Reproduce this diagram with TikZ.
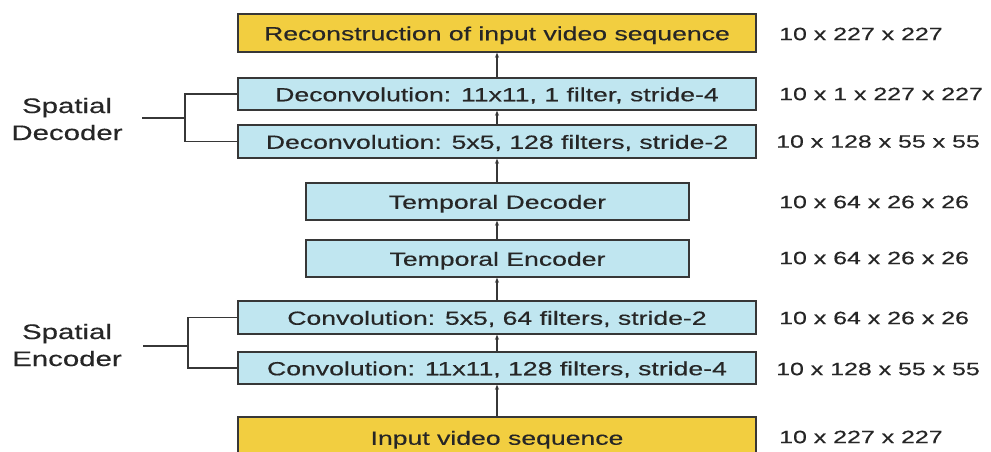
\documentclass[tikz,border=0pt]{standalone}
\usepackage{fontspec}
\setmainfont[FakeStretch=1.4,FakeBold=0.4]{Liberation Sans}
\usetikzlibrary{arrows.meta}
\definecolor{boxyellow}{RGB}{242,206,64}
\definecolor{boxcyan}{RGB}{192,230,240}
\definecolor{edge}{RGB}{55,55,55}
\begin{document}
\begin{tikzpicture}[x=1pt,y=-1pt,
  lbl/.style={text=black!85, inner sep=0pt},
  layer/.style={draw=edge, line width=1.4pt, fill=boxcyan, minimum width=518pt, lbl, font=\fontsize{19}{23}\selectfont, text height=14.5pt, text depth=0pt},
  io/.style={layer, fill=boxyellow},
  temporal/.style={layer, minimum width=383pt},
  dims/.style={lbl, anchor=west, font=\fontsize{17.8}{22}\selectfont},
  side/.style={lbl, align=center, font=\fontsize{21}{27}\selectfont},
  arr/.style={draw=edge, line width=1.3pt, -{Stealth[length=5pt,width=4pt]}},
  brk/.style={draw=edge, line width=1.3pt}]
\useasboundingbox[fill=white] (0,0) rectangle (991,451);
\node[io, minimum height=38pt] (rec) at (497,33) {Reconstruction of input video sequence};
\node[layer, minimum height=32pt] (d11) at (497,94) {Deconvolution: 11x11, 1 filter, stride-4};
\node[layer, minimum height=33pt] (d5) at (497,141.5) {Deconvolution: 5x5, 128 filters, stride-2};
\node[temporal, minimum height=37pt] (td) at (497.5,201.5) {Temporal Decoder};
\node[temporal, minimum height=37pt] (te) at (497.5,258.5) {Temporal Encoder};
\node[layer, minimum height=33pt] (c5) at (497,317.5) {Convolution: 5x5, 64 filters, stride-2};
\node[layer, minimum height=32pt] (c11) at (497,368) {Convolution: 11x11, 128 filters, stride-4};
\node[io, minimum height=41pt] (in) at (497,437.5) {Input video sequence};

\draw[arr] (in.north) -- (c11.south);
\draw[arr] (c11.north) -- (c5.south);
\draw[arr] (c5.north) -- (te.south -| c5.north);
\draw[arr] (te.north -| c5.north) -- (td.south -| c5.north);
\draw[arr] (td.north -| c5.north) -- (d5.south);
\draw[arr] (d5.north) -- (d11.south);
\draw[arr] (d11.north) -- (rec.south);

\node[dims] (l1) at (779,34) {10 x 227 x 227};
\node[dims] (l2) at (779,94) {10 x 1 x 227 x 227};
\node[dims] (l3) at (776,141.5) {10 x 128 x 55 x 55};
\node[dims] (l4) at (779,202) {10 x 64 x 26 x 26};
\node[dims] (l5) at (779,258) {10 x 64 x 26 x 26};
\node[dims] (l6) at (779,318) {10 x 64 x 26 x 26};
\node[dims] (l7) at (776,369) {10 x 128 x 55 x 55};
\node[dims] (l8) at (779,437) {10 x 227 x 227};

\node[side] (sd) at (67,119) {Spatial\\Decoder};
\node[side] (se) at (67,345) {Spatial\\Encoder};

\coordinate (sdj) at (185,118);
\coordinate (sdt) at (142,118);
\draw[brk] (sdt) -- (sdj);
\draw[brk] (d11.west) -| (sdj) |- (d5.west);
\coordinate (sej) at (188,346);
\coordinate (set) at (143,346);
\draw[brk] (set) -- (sej);
\draw[brk] (c5.west) -| (sej) |- (c11.west);
\end{tikzpicture}
\end{document}
